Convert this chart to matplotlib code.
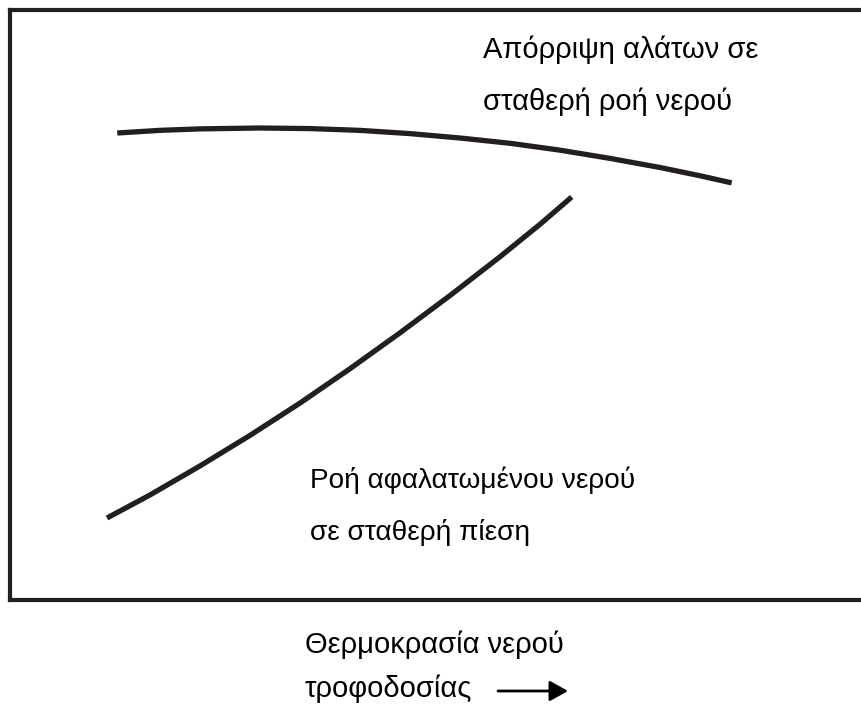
import matplotlib
matplotlib.use("Agg")
import matplotlib.pyplot as plt

# ── DATA (arbitrary units, x = feed water temperature) ─────────
salt_x = [12.6, 17.6, 22.3, 29.4, 35.3, 41.1, 47.0, 52.9, 58.8, 64.6, 70.5, 76.4, 81.1, 84.8]
salt_y = [79.15, 79.6, 79.85, 80.0, 79.9, 79.6, 79.05, 78.3, 77.4, 76.25, 74.85, 73.3, 71.9, 70.7]

flow_x = [11.4, 16.45, 22.3, 28.2, 34.1, 39.95, 45.8, 51.7, 57.6, 62.3, 66.0]
flow_y = [13.9, 17.8, 22.7, 27.9, 33.4, 39.2, 45.25, 51.6, 58.2, 63.7, 68.3]

salt_label = "Απόρριψη αλάτων σε\nσταθερή ροή νερού"
flow_label = "Ροή αφαλατωμένου νερού\nσε σταθερή πίεση"
x_label = ["Θερμοκρασία νερού", "τροφοδοσίας"]

INK = "#231f20"
W, H = 861, 706
FS = 21

plt.rcParams["font.family"] = ["Liberation Sans", "DejaVu Sans"]

fig = plt.figure(figsize=(W / 100, H / 100), dpi=100)
# box runs from x=10 to past the right edge, y=10..600 px
ax = fig.add_axes([10 / W, 1 - 600 / H, 1 - 10 / W, 590 / H])
ax.set_xlim(0, 100)
ax.set_ylim(0, 100)
ax.set_xticks([])
ax.set_yticks([])
for side in ["left", "top", "bottom"]:
    ax.spines[side].set_linewidth(3.0)
    ax.spines[side].set_color(INK)
ax.spines["right"].set_visible(False)

ax.plot(salt_x, salt_y, color=INK, lw=3.8, solid_capstyle="butt",
        solid_joinstyle="round")
ax.plot(flow_x, flow_y, color=INK, lw=3.8, solid_capstyle="butt",
        solid_joinstyle="round")

line1, line2 = salt_label.split("\n")
ax.text(55.6, 91.9, line1, fontsize=FS, va="baseline", ha="left")
ax.text(55.6, 83.1, line2, fontsize=FS, va="baseline", ha="left")

line1, line2 = flow_label.split("\n")
ax.text(35.3, 19.0, line1, fontsize=20.2, va="baseline", ha="left")
ax.text(35.3, 10.2, line2, fontsize=20.2, va="baseline", ha="left")

fig.text(305 / W, 1 - 653 / H, x_label[0], fontsize=FS, va="baseline")
fig.text(305 / W, 1 - 697 / H, x_label[1], fontsize=FS, va="baseline")

ax.annotate("", xy=(568 / W, 1 - 691 / H), xytext=(498 / W, 1 - 691 / H),
            xycoords="figure fraction", textcoords="figure fraction",
            arrowprops=dict(arrowstyle="-|>,head_length=0.5,head_width=0.28",
                            color="black", lw=2, mutation_scale=22,
                            shrinkA=0, shrinkB=0))

fig.savefig("out.png", dpi=100)
